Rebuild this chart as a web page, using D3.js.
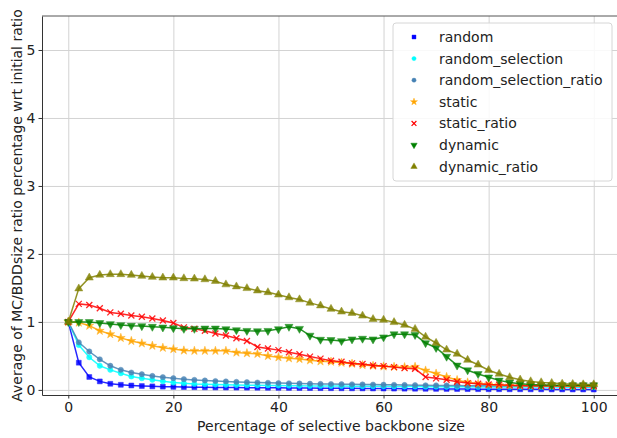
<!DOCTYPE html>
<html lang="en">
<head>
<meta charset="utf-8">
<script src="https://cdn.jsdelivr.net/npm/d3@7"></script>
<style>
  body { margin: 0; background: #fff; }
  text { font-family: "DejaVu Sans", sans-serif; fill: #222; }
  .grid line { stroke: #d3d3d3; stroke-width: 1; }
  .grid .domain { stroke: none; }
</style>
</head>
<body>
<svg id="chart" width="617" height="438"></svg>
<script>
// x positions: 0, 2, 4, ... 100
const xs = d3.range(0, 101, 2);

const names = ["random", "random_selection", "random_selection_ratio", "static",
  "static_ratio", "dynamic", "dynamic_ratio"];
const colors = ["#0000ff", "#00ffff", "#4682b4", "#ffa500", "#ff0000", "#008000", "#808000"];
const markers = ["square", "circle", "circle", "star", "x", "down", "up"];

const random = [1.0, 0.40, 0.19, 0.125, 0.09, 0.075, 0.065, 0.057, 0.052, 0.048,
  0.045, 0.042, 0.04, 0.038, 0.036, 0.035, 0.034, 0.033, 0.032, 0.031,
  0.03, 0.029, 0.028, 0.027, 0.026, 0.025, 0.024, 0.023, 0.022, 0.021,
  0.02, 0.019, 0.018, 0.017, 0.016, 0.015, 0.014, 0.013, 0.012, 0.011,
  0.01, 0.01, 0.009, 0.009, 0.008, 0.008, 0.007, 0.007, 0.006, 0.006, 0.005];

const randomSelection = [1.0, 0.66, 0.48, 0.355, 0.295, 0.245, 0.198, 0.172, 0.148, 0.127,
  0.108, 0.098, 0.088, 0.082, 0.078, 0.075, 0.072, 0.07, 0.068, 0.066,
  0.064, 0.062, 0.06, 0.059, 0.058, 0.057, 0.056, 0.055, 0.054, 0.053,
  0.052, 0.051, 0.05, 0.049, 0.048, 0.047, 0.046, 0.045, 0.045, 0.044,
  0.044, 0.043, 0.043, 0.042, 0.042, 0.041, 0.041, 0.04, 0.04, 0.04, 0.04];

const randomSelectionRatio = [1.0, 0.70, 0.565, 0.45, 0.355, 0.295, 0.255, 0.23, 0.205, 0.187,
  0.172, 0.158, 0.147, 0.138, 0.13, 0.124, 0.118, 0.113, 0.108, 0.104,
  0.10, 0.097, 0.094, 0.091, 0.088, 0.086, 0.084, 0.082, 0.08, 0.078,
  0.076, 0.074, 0.072, 0.07, 0.068, 0.066, 0.065, 0.063, 0.062, 0.061,
  0.06, 0.059, 0.058, 0.057, 0.056, 0.055, 0.054, 0.053, 0.052, 0.051, 0.05];

const staticVals = [1.0, 0.99, 0.945, 0.87, 0.82, 0.765, 0.72, 0.685, 0.65, 0.62,
  0.60, 0.58, 0.575, 0.575, 0.575, 0.575, 0.55, 0.54, 0.53, 0.50,
  0.48, 0.465, 0.455, 0.435, 0.42, 0.415, 0.40, 0.385, 0.365, 0.355,
  0.345, 0.34, 0.335, 0.34, 0.285, 0.24, 0.19, 0.145, 0.11, 0.09,
  0.08, 0.07, 0.065, 0.062, 0.06, 0.058, 0.057, 0.056, 0.055, 0.055, 0.055];

const staticRatio = [1.0, 1.265, 1.25, 1.20, 1.14, 1.12, 1.095, 1.075, 1.05, 1.02,
  0.985, 0.92, 0.90, 0.87, 0.83, 0.80, 0.76, 0.72, 0.63, 0.61,
  0.585, 0.555, 0.525, 0.49, 0.46, 0.43, 0.415, 0.39, 0.38, 0.36,
  0.35, 0.335, 0.32, 0.31, 0.19, 0.17, 0.15, 0.12, 0.10, 0.09,
  0.08, 0.075, 0.07, 0.065, 0.062, 0.06, 0.06, 0.06, 0.06, 0.06, 0.06];

const dynamic = [1.0, 1.0, 1.0, 0.985, 0.97, 0.955, 0.945, 0.94, 0.93, 0.92,
  0.91, 0.90, 0.90, 0.905, 0.905, 0.895, 0.88, 0.87, 0.865, 0.87,
  0.895, 0.93, 0.90, 0.80, 0.74, 0.735, 0.72, 0.745, 0.755, 0.745,
  0.775, 0.82, 0.82, 0.81, 0.69, 0.62, 0.49, 0.36, 0.29, 0.235,
  0.185, 0.14, 0.11, 0.09, 0.08, 0.075, 0.07, 0.07, 0.07, 0.07, 0.07];

const dynamicRatio = [1.0, 1.49, 1.65, 1.69, 1.70, 1.70, 1.69, 1.675, 1.66, 1.65,
  1.65, 1.64, 1.635, 1.625, 1.60, 1.55, 1.52, 1.495, 1.46, 1.435,
  1.40, 1.36, 1.33, 1.28, 1.24, 1.19, 1.15, 1.13, 1.09, 1.04,
  1.03, 0.995, 0.955, 0.895, 0.78, 0.69, 0.59, 0.53, 0.44, 0.37,
  0.29, 0.235, 0.185, 0.15, 0.125, 0.11, 0.10, 0.09, 0.085, 0.08, 0.08];

const seriesVals = [random, randomSelection, randomSelectionRatio, staticVals,
  staticRatio, dynamic, dynamicRatio];

const xTicks = [0, 20, 40, 60, 80, 100];
const yTicks = [0, 1, 2, 3, 4, 5];

const margin = { top: 16, left: 42 };
const plotW = 578, plotH = 379;

const svg = d3.select("#chart");
const g = svg.append("g").attr("transform", `translate(${margin.left},${margin.top})`);

const x = d3.scaleLinear().domain([-5, 105]).range([0, plotW]);
const y = d3.scaleLinear().domain([-0.075, 5.5]).range([plotH, 0]);

// gridlines
g.append("g").attr("class", "grid")
  .attr("transform", `translate(0,${plotH})`)
  .call(d3.axisBottom(x).tickValues(xTicks).tickSize(-plotH).tickFormat(""));
g.append("g").attr("class", "grid")
  .call(d3.axisLeft(y).tickValues(yTicks).tickSize(-plotW).tickFormat(""));

// top spine
g.append("line").attr("x1", 0).attr("x2", plotW).attr("y1", 0).attr("y2", 0)
  .attr("stroke", "#555").attr("stroke-width", 1);

const symPath = (type) => {
  if (type === "square") return d3.symbol(d3.symbolSquare, 24)();
  if (type === "circle") return d3.symbol(d3.symbolCircle, 22)();
  if (type === "star") return d3.symbol(d3.symbolStar, 24)();
  if (type === "up") return d3.symbol(d3.symbolTriangle, 28)();
  if (type === "down") return d3.symbol(d3.symbolTriangle, 28)();
  return "M-3,-3L3,3M-3,3L3,-3";
};

const line = d3.line().x((d, i) => x(xs[i])).y(d => y(d));

seriesVals.forEach((vals, s) => {
  const sg = g.append("g");
  sg.append("path")
    .datum(vals)
    .attr("d", line)
    .attr("fill", "none")
    .attr("stroke", colors[s])
    .attr("stroke-width", 1.5)
    .attr("opacity", 0.85);

  sg.selectAll("path.m").data(vals).join("path")
    .attr("class", "m")
    .attr("d", symPath(markers[s]))
    .attr("transform", (d, i) => `translate(${x(xs[i])},${y(d)})` + (markers[s] === "down" ? " rotate(180)" : ""))
    .attr("fill", markers[s] === "x" ? "none" : colors[s])
    .attr("stroke", colors[s])
    .attr("stroke-width", markers[s] === "x" ? 1.3 : 0.5)
    .attr("opacity", 0.85);
});

// axes
const xAxis = g.append("g")
  .attr("transform", `translate(0,${plotH})`)
  .call(d3.axisBottom(x).tickValues(xTicks).tickFormat(d3.format("d"))
    .tickSize(3.5).tickPadding(4).tickSizeOuter(0));
const yAxis = g.append("g")
  .call(d3.axisLeft(y).tickValues(yTicks).tickFormat(d3.format("d"))
    .tickSize(3.5).tickPadding(3).tickSizeOuter(0));

[xAxis, yAxis].forEach(a => {
  a.selectAll("text").style("font-family", "DejaVu Sans, sans-serif").style("font-size", "14px").attr("fill", "#222");
  a.selectAll("line").attr("stroke", "#333");
  a.select(".domain").attr("stroke", "#333");
});

// axis labels
svg.append("text")
  .attr("x", 331).attr("y", 431)
  .attr("text-anchor", "middle")
  .style("font-size", "14px")
  .text("Percentage of selective backbone size");

svg.append("text")
  .attr("transform", `translate(17,${margin.top + plotH / 2}) rotate(-90)`)
  .attr("text-anchor", "middle")
  .attr("dy", "0.35em")
  .style("font-size", "14px")
  .text("Average of MC/BDDsize ratio percentage wrt initial ratio");

// legend
const legend = svg.append("g");
legend.append("rect")
  .attr("x", 393).attr("y", 23).attr("width", 219).attr("height", 158)
  .attr("rx", 3)
  .attr("fill", "#fff").attr("fill-opacity", 0.85)
  .attr("stroke", "#d6d6d6");

names.forEach((n, i) => {
  const cy = 37 + i * 21.6;
  legend.append("path")
    .attr("d", symPath(markers[i]))
    .attr("transform", `translate(414,${cy}) scale(0.8)` + (markers[i] === "down" ? " rotate(180)" : ""))
    .attr("fill", markers[i] === "x" ? "none" : colors[i])
    .attr("stroke", colors[i])
    .attr("stroke-width", markers[i] === "x" ? 1.5 : 0.5);
  legend.append("text")
    .attr("x", 439).attr("y", cy)
    .attr("dy", "0.35em")
    .style("font-size", "14px")
    .text(n);
});
</script>
</body>
</html>
